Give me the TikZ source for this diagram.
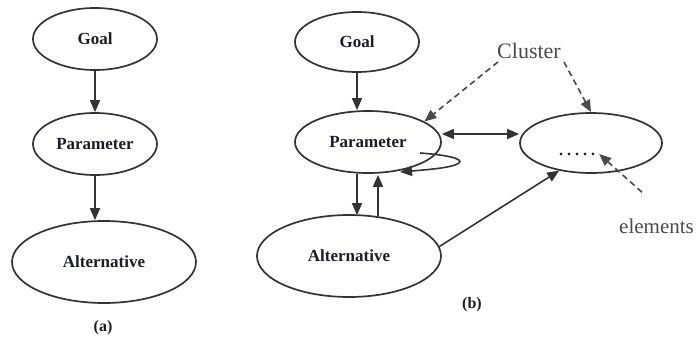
\documentclass[tikz,border=0pt]{standalone}
\usepackage{fontspec}
\setmainfont{Liberation Serif}
\usetikzlibrary{shapes.geometric,arrows.meta,calc}
\definecolor{ink}{HTML}{333333}
\definecolor{txt}{HTML}{1C1C28}
\definecolor{note}{HTML}{4A4A4A}
\begin{document}
\begin{tikzpicture}[x=1pt,y=-1pt,
  oval/.style={ellipse,draw=ink,line width=1.7pt,inner sep=0pt,
    text=txt,font=\fontsize{17}{20}\selectfont\bfseries},
  link/.style={draw=ink,line width=1.6pt,-{Triangle[length=12pt,width=10pt]}},
  twoway/.style={draw=ink,line width=1.6pt,{Triangle[length=12pt,width=10pt]}-{Triangle[length=12pt,width=10pt]}},
  hint/.style={draw=note,line width=1.6pt,dash pattern=on 6pt off 4pt,
    -{Triangle[length=12pt,width=10pt]}},
  remark/.style={text=note,inner sep=2pt,font=\fontsize{22}{26}\selectfont},
  caption/.style={text=txt,font=\fontsize{16}{19}\selectfont\bfseries}]
\useasboundingbox (0,0) rectangle (697,341);

% ---- (a): plain hierarchy ----
\node[oval,minimum width=124pt,minimum height=62pt] (aG) at (95,39) {Goal};
\node[oval,minimum width=124pt,minimum height=62pt] (aP) at (95,144) {Parameter};
\node[oval,minimum width=184pt,minimum height=82pt] (aA) at (104,262) {Alternative};
\draw[link] (aG.south) -- (aP.north);
\draw[link] (aP.south) -- (aP.south |- aA.north);
\node[caption] (capa) at (103,328) {(a)};

% ---- (b): network with feedback ----
\node[oval,minimum width=124pt,minimum height=60pt] (bG) at (357,42) {Goal};
\node[oval,minimum width=146pt,minimum height=62pt] (bP) at (368,142) {Parameter};
\node[oval,minimum width=184pt,minimum height=82pt] (bA) at (349,256) {Alternative};
\node[ellipse,draw=ink,line width=1.7pt,minimum width=142pt,minimum height=60pt] (bC) at (591,143) {};
\node[text=txt,inner sep=0pt,font=\fontsize{16}{19}\selectfont\bfseries] (dots) at (577,154) {.\hspace{4pt}.\hspace{4pt}.\hspace{4pt}.\hspace{4pt}.};

\draw[link] (bG.south) -- (bG.south |- bP.north);
\coordinate (dn) at ([xshift=-11pt]bP.south);
\coordinate (up) at ([xshift=10pt]bP.south);
\draw[link] (dn) -- ([yshift=-1pt]dn |- bA.north);
\draw[link] ([yshift=-2pt]up |- bA.north) -- ([yshift=-1pt]up);
\draw[link] ([shift={(52,11)}]bP.center) .. controls ([shift={(80,13)}]bP.center) and ([shift={(96,17)}]bP.center) .. ([shift={(91,21)}]bP.center)
  .. controls ([shift={(85,26)}]bP.center) and ([shift={(55,28)}]bP.center) .. ([shift={(32,30)}]bP.center);
\draw[twoway] ([yshift=8pt]bP.east) -- ([yshift=8pt]bP.east -| bC.west);
\draw[link] (bA.6) -- (bC.221);

\node[remark] (cl) at (529,51) {Cluster};
\node[remark,anchor=base west,inner sep=0pt,font=\fontsize{21}{25}\selectfont] (el) at (619,233) {elements};
\draw[hint] ([shift={(3,1)}]cl.south west) -- (bP.20);
\draw[hint] ([shift={(1,1)}]cl.south east) -- (bC.north);
\coordinate (elTop) at ([shift={(23,-26)}]el.north west);
\draw[hint] (elTop) -- ([xshift=4pt]dots.east);

\node[caption] (capb) at (472,305) {(b)};
\end{tikzpicture}
\end{document}
